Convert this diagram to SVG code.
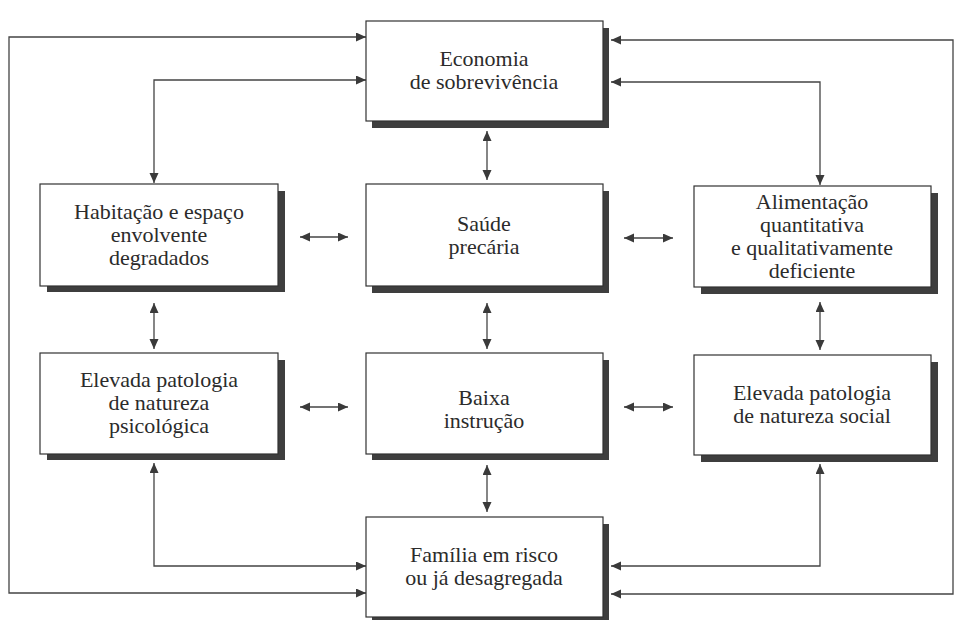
<svg xmlns="http://www.w3.org/2000/svg" width="955" height="620" viewBox="0 0 955 620">
<style>
.shadow{fill:#3e3e3e}
.box{fill:#fff;stroke:#333;stroke-width:1.2}
.t{font-family:"Liberation Serif","DejaVu Serif",serif;font-size:22px;fill:#2b2b2b;text-anchor:middle}
.c{fill:none;stroke:#444;stroke-width:1.3;marker-start:url(#ah);marker-end:url(#ah)}
</style>
<defs>
<marker id="ah" markerUnits="userSpaceOnUse" markerWidth="11" markerHeight="10" refX="10" refY="4.5" orient="auto-start-reverse">
<path d="M0,0 L10,4.5 L0,9 z" fill="#3a3a3a"/>
</marker>
</defs>
<rect width="955" height="620" fill="#fff"/>
<g id="connectors">
<path class="c" d="M366,37 H9 V593 H366"/>
<path class="c" d="M366,80 H154 V183"/>
<path class="c" d="M611,40 H953 V594 H611"/>
<path class="c" d="M611,82 H820 V185"/>
<path class="c" d="M154,463 V566 H366"/>
<path class="c" d="M820,464 V566 H611"/>
<path class="c" d="M487,131 V180"/>
<path class="c" d="M300,237 H348"/>
<path class="c" d="M624,238 H673"/>
<path class="c" d="M154,303 V349"/>
<path class="c" d="M487,303 V349"/>
<path class="c" d="M820,302 V350"/>
<path class="c" d="M300,407 H348"/>
<path class="c" d="M624,407 H673"/>
<path class="c" d="M487,465 V512"/>
</g>
<g id="economia">
<rect class="shadow" x="372" y="28" width="237" height="100"/>
<rect class="box" x="366" y="21" width="237" height="100"/>
<text class="t" x="484" y="66">Economia</text>
<text class="t" x="484" y="89">de sobrevivência</text>
</g>
<g id="habitacao">
<rect class="shadow" x="47" y="191" width="238" height="101"/>
<rect class="box" x="40" y="184" width="238" height="102"/>
<text class="t" x="159" y="219">Habitação e espaço</text>
<text class="t" x="159" y="242">envolvente</text>
<text class="t" x="159" y="265">degradados</text>
</g>
<g id="saude">
<rect class="shadow" x="372" y="191" width="237" height="102"/>
<rect class="box" x="366" y="184" width="237" height="102"/>
<text class="t" x="484" y="231">Saúde</text>
<text class="t" x="484" y="254">precária</text>
</g>
<g id="alimentacao">
<rect class="shadow" x="701" y="193" width="237" height="101"/>
<rect class="box" x="694" y="186" width="237" height="101"/>
<text class="t" x="812" y="209">Alimentação</text>
<text class="t" x="812" y="232">quantitativa</text>
<text class="t" x="812" y="255">e qualitativamente</text>
<text class="t" x="812" y="278">deficiente</text>
</g>
<g id="patologia-psicologica">
<rect class="shadow" x="47" y="360" width="238" height="100"/>
<rect class="box" x="40" y="353" width="238" height="101"/>
<text class="t" x="159" y="387">Elevada patologia</text>
<text class="t" x="159" y="410">de natureza</text>
<text class="t" x="159" y="433">psicológica</text>
</g>
<g id="baixa-instrucao">
<rect class="shadow" x="372" y="360" width="237" height="100"/>
<rect class="box" x="366" y="353" width="237" height="101"/>
<text class="t" x="484" y="405">Baixa</text>
<text class="t" x="484" y="428">instrução</text>
</g>
<g id="patologia-social">
<rect class="shadow" x="701" y="362" width="237" height="100"/>
<rect class="box" x="694" y="355" width="237" height="100"/>
<text class="t" x="812" y="400">Elevada patologia</text>
<text class="t" x="812" y="423">de natureza social</text>
</g>
<g id="familia">
<rect class="shadow" x="372" y="524" width="237" height="100"/>
<rect class="box" x="366" y="517" width="237" height="100"/>
<text class="t" x="484" y="562">Família em risco</text>
<text class="t" x="484" y="585">ou já desagregada</text>
</g>
</svg>
